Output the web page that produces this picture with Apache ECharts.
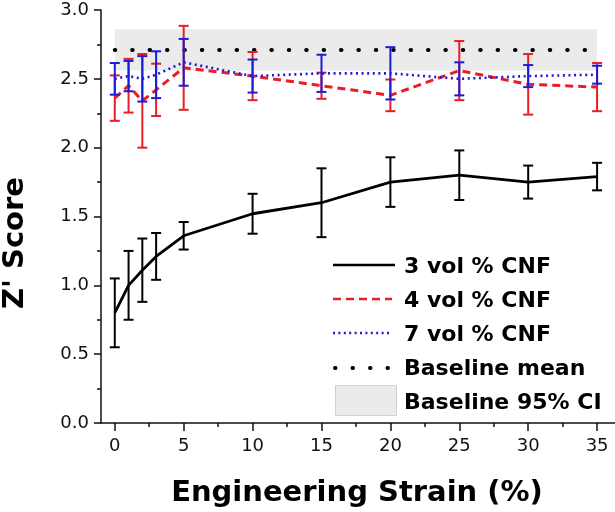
<!DOCTYPE html>
<html><head><meta charset="utf-8">
<script src="https://cdn.jsdelivr.net/npm/echarts@6/dist/echarts.min.js"></script>
<style>html,body{margin:0;padding:0;background:#fff}#c{width:615px;height:512px}</style>
</head><body><div id="c"></div>
<script>
// ---- data ----
const strain = [0, 1, 2, 3, 5, 10, 15, 20, 25, 30, 35];
const cnf3Mean = [0.80, 1.00, 1.11, 1.21, 1.36, 1.52, 1.60, 1.75, 1.80, 1.75, 1.79];
const cnf3Err  = [0.25, 0.25, 0.23, 0.17, 0.10, 0.145, 0.25, 0.18, 0.18, 0.12, 0.10];
const cnf4Mean = [2.36, 2.45, 2.34, 2.42, 2.58, 2.52, 2.45, 2.38, 2.56, 2.46, 2.44];
const cnf4Err  = [0.165, 0.195, 0.34, 0.19, 0.305, 0.175, 0.095, 0.115, 0.215, 0.22, 0.175];
const cnf7Mean = [2.50, 2.52, 2.50, 2.53, 2.62, 2.52, 2.54, 2.54, 2.50, 2.52, 2.53];
const cnf7Err  = [0.115, 0.11, 0.165, 0.17, 0.17, 0.12, 0.135, 0.19, 0.12, 0.08, 0.065];
const baselineMean = 2.71;
const baselineCI = [2.56, 2.86];
const baselineRange = [0, 35];
const xTicks = [0, 5, 10, 15, 20, 25, 30, 35];
const xMinorTicks = [2.5, 7.5, 12.5, 17.5, 22.5, 27.5, 32.5];
const seriesNames = ['3 vol % CNF', '4 vol % CNF', '7 vol % CNF', 'Baseline mean', 'Baseline 95% CI'];
const xTitle = 'Engineering Strain (%)';
const yTitle = "Z' Score";

const RED = '#ec1c24', BLUE = '#1c1cd8', BLACK = '#000', GREY = '#ebebeb';
const FONT = 'DejaVu Sans';

function pts(means) { return strain.map((x, i) => [x, means[i]]); }
function errSeries(name, means, errs, color, z) {
  return {
    type: 'custom', name: name + ' err', z: z, silent: true,
    encode: { x: 0, y: [1, 2] },
    data: strain.map((x, i) => [x, means[i] - errs[i], means[i] + errs[i]]),
    renderItem(params, api) {
      const x = api.value(0), lo = api.value(1), hi = api.value(2);
      const p1 = api.coord([x, lo]), p2 = api.coord([x, hi]);
      const w = 5;
      const style = { stroke: color, lineWidth: 2 };
      return { type: 'group', children: [
        { type: 'line', shape: { x1: p1[0], y1: p1[1], x2: p2[0], y2: p2[1] }, style },
        { type: 'line', shape: { x1: p1[0] - w, y1: p1[1], x2: p1[0] + w, y2: p1[1] }, style },
        { type: 'line', shape: { x1: p2[0] - w, y1: p2[1], x2: p2[0] + w, y2: p2[1] }, style }
      ]};
    }
  };
}

const axisLineStyle = { color: '#111', width: 1.5 };
const chart = echarts.init(document.getElementById('c'), null, { renderer: 'canvas' });

const legendY0 = 265, legendDy = 34, sx0 = 333, sx1 = 395, tx = 404;
const legendGraphics = [];
seriesNames.forEach((n, i) => {
  const y = legendY0 + legendDy * i;
  legendGraphics.push({ type: 'text', left: tx, top: y - 9, style: { text: n, fill: '#000', font: 'bold 22px "' + FONT + '"' } });
});
legendGraphics.push(
  { type: 'line', shape: { x1: sx0, y1: legendY0, x2: sx1, y2: legendY0 }, style: { stroke: BLACK, lineWidth: 2.5 } },
  { type: 'line', shape: { x1: sx0, y1: legendY0 + legendDy, x2: sx1 - 3, y2: legendY0 + legendDy }, style: { stroke: RED, lineWidth: 2.5, lineDash: [8, 5] } },
  { type: 'line', shape: { x1: sx0, y1: legendY0 + 2 * legendDy, x2: sx1 - 3, y2: legendY0 + 2 * legendDy }, style: { stroke: BLUE, lineWidth: 2.5, lineDash: [2, 3.4] } },
  { type: 'line', shape: { x1: sx0 + 2, y1: legendY0 + 3 * legendDy + 1, x2: sx1, y2: legendY0 + 3 * legendDy + 1 }, style: { stroke: BLACK, lineWidth: 4, lineDash: [0.5, 17], lineCap: 'round' } },
  { type: 'rect', shape: { x: 335.5, y: 385.5, width: 61, height: 30 }, style: { fill: GREY, stroke: '#d0d0d0', lineWidth: 1 } }
);

chart.setOption({
  animation: false,
  backgroundColor: '#fff',
  grid: { left: 101, right: 0, top: 10, bottom: 89, containLabel: false },
  xAxis: [{
    type: 'value', min: -1, max: 36.3, position: 'bottom',
    axisLine: { show: true, onZero: false, lineStyle: axisLineStyle },
    axisTick: { show: true, customValues: xTicks, length: 8, lineStyle: axisLineStyle },
    axisLabel: { customValues: xTicks, fontSize: 18, fontFamily: FONT, color: '#111', margin: 14 },
    splitLine: { show: false }
  }, {
    type: 'value', min: -1, max: 36.3, position: 'bottom',
    axisLine: { show: false, onZero: false },
    axisTick: { show: true, customValues: xMinorTicks, length: 4, lineStyle: axisLineStyle },
    axisLabel: { show: false },
    splitLine: { show: false }
  }],
  yAxis: {
    type: 'value', min: 0, max: 3, interval: 0.5,
    axisLine: { show: true, onZero: false, lineStyle: axisLineStyle },
    axisTick: { show: true, length: 7, lineStyle: axisLineStyle },
    minorTick: { show: true, splitNumber: 2, length: 4, lineStyle: axisLineStyle },
    axisLabel: { fontSize: 18, fontFamily: FONT, color: '#111', margin: 12, formatter: v => v.toFixed(1) },
    splitLine: { show: false }
  },
  graphic: [
    { type: 'text', x: 15, y: 243, rotation: Math.PI / 2, style: { text: yTitle, fill: '#000', font: 'bold 29px "' + FONT + '"', align: 'center', verticalAlign: 'middle' } },
    { type: 'text', x: 357, y: 493, style: { text: xTitle, fill: '#000', font: 'bold 29px "' + FONT + '"', align: 'center', verticalAlign: 'middle' } }
  ].concat(legendGraphics),
  series: [
    {
      type: 'custom', name: seriesNames[4], z: 1, silent: true,
      encode: { x: [0, 1], y: [2, 3] },
      data: [[baselineRange[0], baselineRange[1], baselineCI[0], baselineCI[1]]],
      renderItem(params, api) {
        const a = api.coord([api.value(0), api.value(3)]);
        const b = api.coord([api.value(1), api.value(2)]);
        return { type: 'rect', shape: { x: a[0], y: a[1], width: b[0] - a[0], height: b[1] - a[1] }, style: { fill: GREY } };
      }
    },
    {
      type: 'line', name: seriesNames[3], z: 2, symbol: 'none', silent: true,
      data: [[baselineRange[0], baselineMean], [baselineRange[1], baselineMean]],
      lineStyle: { color: BLACK, width: 4, type: [0.5, 16.9], cap: 'round' }
    },
    { type: 'line', name: seriesNames[0], z: 3, symbol: 'none', data: pts(cnf3Mean), lineStyle: { color: BLACK, width: 2.8, join: 'round' } },
    errSeries('3', cnf3Mean, cnf3Err, BLACK, 3),
    { type: 'line', name: seriesNames[1], z: 4, symbol: 'none', data: pts(cnf4Mean), lineStyle: { color: RED, width: 3, type: [8, 5] } },
    errSeries('4', cnf4Mean, cnf4Err, RED, 4),
    { type: 'line', name: seriesNames[2], z: 5, symbol: 'none', data: pts(cnf7Mean), lineStyle: { color: BLUE, width: 2.6, type: [2, 3.6] } },
    errSeries('7', cnf7Mean, cnf7Err, BLUE, 5)
  ]
});
</script></body></html>
